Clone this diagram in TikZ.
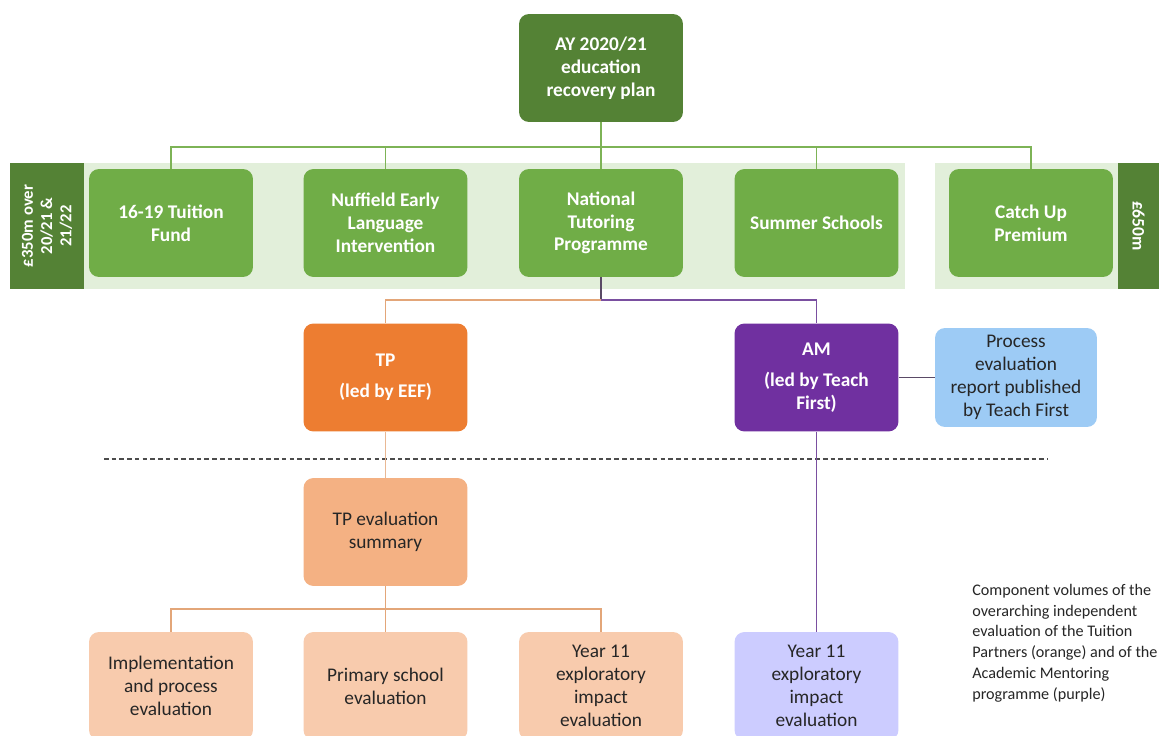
\documentclass[tikz,border=0pt]{standalone}
\usepackage{fontspec}
\setmainfont{Carlito}
\definecolor{dgreen}{HTML}{548235}
\definecolor{mgreen}{HTML}{70AD47}
\definecolor{band}{HTML}{E2EFDA}
\definecolor{lgline}{HTML}{7DB356}
\definecolor{orng}{HTML}{ED7D31}
\definecolor{lorng}{HTML}{F4B183}
\definecolor{llorng}{HTML}{F8CBAD}
\definecolor{oline}{HTML}{E3A679}
\definecolor{purp}{HTML}{7030A0}
\definecolor{pline}{HTML}{7A4FA0}
\definecolor{lav}{HTML}{CCCCFF}
\definecolor{lblue}{HTML}{9DCBF5}
\definecolor{dtext}{HTML}{262626}
\definecolor{nline}{HTML}{5A4A66}
\tikzset{
  box/.style={rectangle, rounded corners=0.2cm, minimum width=3.28cm, minimum height=2.16cm, align=center, inner sep=2pt, font=\fontsize{11}{13}\selectfont},
  wbox/.style={box, text=white, font=\fontsize{11}{13}\selectfont\bfseries},
  lbox/.style={box, text=dtext},
  gline/.style={draw=lgline, line width=0.8pt},
  oln/.style={draw=oline, line width=0.8pt},
  pln/.style={draw=pline, line width=0.8pt},
}
\begin{document}
\begin{tikzpicture}[x=0.02cm,y=-0.02cm]
\clip (0,0) rectangle (1171,736);
\fill[white] (0,0) rectangle (1171,736);
% bands
\fill[band] (10,163) rectangle (905,289);
\fill[dgreen] (10,163) rectangle (84,289);
\fill[band] (935,163) rectangle (1159,289);
\fill[dgreen] (1118,163) rectangle (1159,289);
\node[rotate=90, text=white, align=center, font=\fontsize{9.5}{11}\selectfont\bfseries] (lab1) at (47,226) {£350m over\\20/21 \&\\21/22};
\node[rotate=-90, text=white, font=\fontsize{10}{12}\selectfont\bfseries] (lab2) at (1138.5,226) {£650m};
% nodes
\node[wbox, fill=dgreen] (top) at (601,68) {AY 2020/21\\education\\recovery plan};
\node[wbox, fill=mgreen] (f1) at (171,223) {16-19 Tuition\\Fund};
\node[wbox, fill=mgreen] (f2) at (385.5,223) {Nuffield Early\\Language\\Intervention};
\node[wbox, fill=mgreen] (ntp) at (601,223) {National\\Tutoring\\Programme};
\node[wbox, fill=mgreen] (f4) at (816.5,223) {Summer Schools};
\node[wbox, fill=mgreen] (f5) at (1031,223) {Catch Up\\Premium};
\node[wbox, fill=orng] (tp) at (385.5,377.5) {TP\\[0.16cm](led by EEF)};
\node[wbox, fill=purp] (am) at (816.5,377.5) {AM\\[0.16cm](led by Teach\\First)};
\node[lbox, fill=lblue, minimum width=3.24cm, minimum height=1.98cm] (proc) at (1016,377.5) {Process\\evaluation\\report published\\by Teach First};
\node[lbox, fill=lorng] (sum) at (385.5,532) {TP evaluation\\summary};
\node[lbox, fill=llorng] (b1) at (171,686) {Implementation\\and process\\evaluation};
\node[lbox, fill=llorng] (b2) at (385.5,686) {Primary school\\evaluation};
\node[lbox, fill=llorng] (b3) at (601,686) {Year 11\\exploratory\\impact\\evaluation};
\node[lbox, fill=lav] (b4) at (816.5,686) {Year 11\\exploratory\\impact\\evaluation};
\node[anchor=west, align=left, text=dtext, inner sep=0pt, font=\fontsize{9.2}{11.8}\selectfont] (note) at (972,643) {Component volumes of the\\overarching independent\\evaluation of the Tuition\\Partners (orange) and of the\\Academic Mentoring\\programme (purple)};
% connectors top
\coordinate (jt) at (601,147);
\draw[gline] (top.south) -- (ntp.north);
\draw[gline] (jt) -| (f1.north);
\draw[gline] (jt) -| (f2.north);
\draw[gline] (jt) -| (f4.north);
\draw[gline] (jt) -| (f5.north);
% NTP split
\coordinate (jn) at (601,300);
\draw[draw=nline, line width=0.8pt] (ntp.south) -- (jn);
\draw[oln] (jn) -| (tp.north);
\draw[pln] (jn) -| (am.north);
\draw[draw=nline, line width=0.8pt] (am.east) -- (proc.west);
% dashed
\coordinate (d1) at (104,459);
\coordinate (d2) at (1048,459);
\draw[draw=black!70, line width=0.8pt, dash pattern=on 2.6pt off 1.8pt] (d1) -- (d2);
% lower
\draw[draw=oline!80, line width=0.8pt] (tp.south) -- (sum.north);
\coordinate (js) at (385.5,609);
\draw[oln] (sum.south) -- (b2.north);
\draw[oln] (js) -| (b1.north);
\draw[oln] (js) -| (b3.north);
\draw[pln] (am.south) -- (b4.north);
\end{tikzpicture}
\end{document}
